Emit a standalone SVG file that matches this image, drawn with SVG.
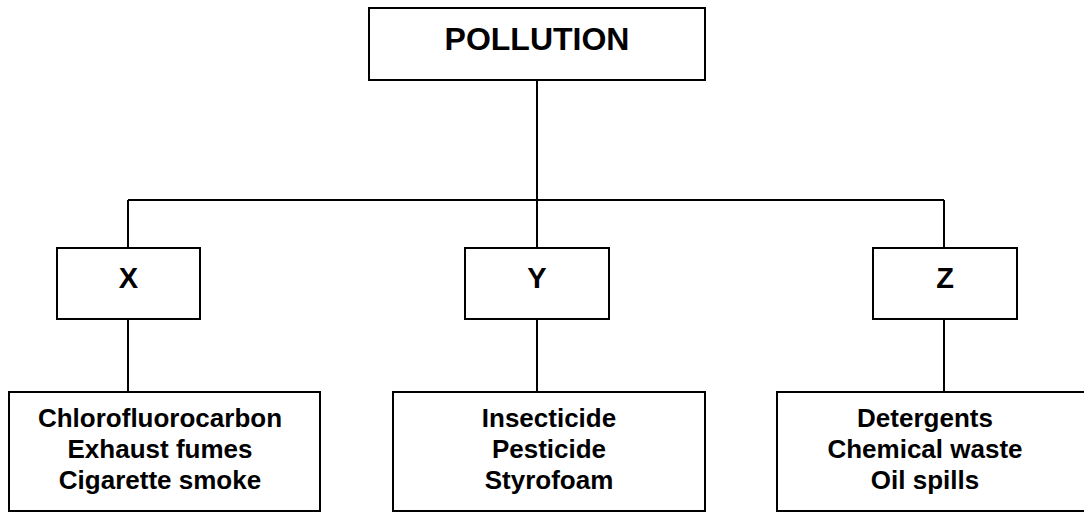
<svg xmlns="http://www.w3.org/2000/svg" width="1084" height="512" viewBox="0 0 1084 512">
<style>
.box{fill:#fff;stroke:#000;stroke-width:2}
.ln{fill:none;stroke:#000;stroke-width:2}
text{font-family:"Liberation Sans",Arial,sans-serif;font-weight:bold;fill:#000;text-anchor:middle}
.t1{font-size:32px}
.t2{font-size:29px}
.t3{font-size:26px}
</style>
<rect width="1084" height="512" fill="#fff"/>
<g id="connectors">
<path class="ln" d="M537 80V248M128 200H944M128 200V248M944 200V248M128 319V392M537 319V392M944 319V392"/>
</g>
<g id="pollution"><rect class="box" x="369" y="8" width="336" height="72"/><text class="t1" x="537" y="50">POLLUTION</text></g>
<g id="x"><rect class="box" x="57" y="248" width="143" height="71"/><text class="t2" x="128.5" y="288">X</text></g>
<g id="y"><rect class="box" x="465" y="248" width="144" height="71"/><text class="t2" x="537" y="288">Y</text></g>
<g id="z"><rect class="box" x="873" y="248" width="144" height="71"/><text class="t2" x="945" y="288">Z</text></g>
<g id="x-list"><rect class="box" x="9" y="392" width="311" height="119"/><text class="t3" x="160" y="427">Chlorofluorocarbon</text><text class="t3" x="160" y="458">Exhaust fumes</text><text class="t3" x="160" y="489">Cigarette smoke</text></g>
<g id="y-list"><rect class="box" x="393" y="392" width="312" height="119"/><text class="t3" x="549" y="427">Insecticide</text><text class="t3" x="549" y="458">Pesticide</text><text class="t3" x="549" y="489">Styrofoam</text></g>
<g id="z-list"><rect class="box" x="777" y="392" width="320" height="119"/><text class="t3" x="925" y="427">Detergents</text><text class="t3" x="925" y="458">Chemical waste</text><text class="t3" x="925" y="489">Oil spills</text></g>
</svg>
